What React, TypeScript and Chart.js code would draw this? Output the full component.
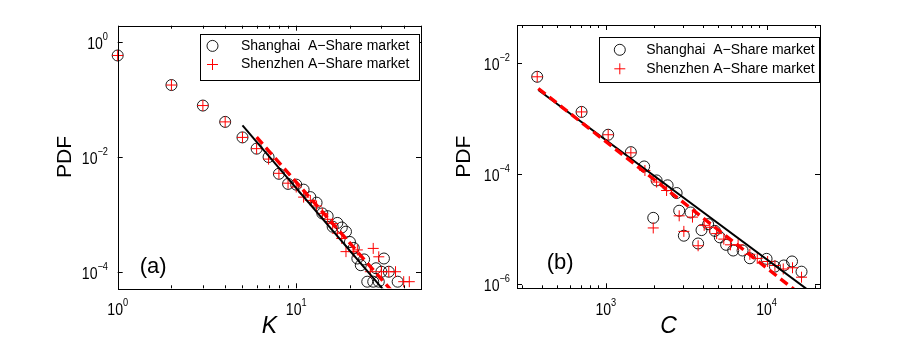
import React, { useEffect, useRef } from 'react';
import { Chart, registerables } from 'chart.js';

Chart.register(...registerables);

const FONT = "'Liberation Sans', Arial, Helvetica, sans-serif";

// ---------- Panel (a): degree K ----------
const kShanghai = [1, 2, 3, 4, 5, 6, 7, 8, 9, 10, 11, 12, 13, 14, 15, 16, 17, 18, 19, 20, 21, 22, 23, 24, 25, 27, 28, 29, 30, 31, 33, 37];
const pdfKShanghai = [0.59, 0.18, 0.079, 0.041, 0.022, 0.014, 0.010, 0.0051, 0.0034, 0.0033, 0.0027, 0.0020, 0.0016, 0.00104, 0.00093, 0.00061, 0.00071, 0.00059, 0.00050, 0.00033, 0.00026, 0.00017, 0.00013, 0.000164, 0.000067, 0.000067, 0.000115, 0.000067, 0.0001, 0.00017, 0.0001, 0.000067];
const kShenzhen = [1, 2, 3, 4, 5, 6, 7, 8, 9, 10, 11, 12, 13, 14, 15, 16, 17, 18, 19, 21, 22, 26, 27, 29, 30, 33, 36, 40, 43];
const pdfKShenzhen = [0.59, 0.18, 0.079, 0.041, 0.022, 0.014, 0.0092, 0.0052, 0.0035, 0.0030, 0.0020, 0.00175, 0.0014, 0.00104, 0.00082, 0.00069, 0.00047, 0.00038, 0.000224, 0.000224, 0.00024, 0.0001, 0.000255, 0.000182, 0.0001, 0.0001, 0.0001, 0.000067, 0.000067];
const fitKBlack = [5, 32];
const fitPdfKBlack = [0.0356, 4.2e-5];
const fitKRed = [6, 36];
const fitPdfKRed = [0.0223, 3.9e-5];
const xTicksA = [1, 2, 3, 4, 5, 6, 7, 8, 9, 10, 20, 30, 40, 50];
const yTicksA = [1e-4, 1e-2, 1];

// ---------- Panel (b): C ----------
const cShanghai = [374, 706, 1034, 1431, 1731, 1972, 2069, 2422, 2756, 2860, 3057, 3365, 3750, 3937, 4331, 4768, 5120, 5600, 6200, 7090, 7870, 10000, 11270, 12800, 14400, 16500];
const pdfCShanghai = [5.7e-3, 1.32e-3, 5.1e-4, 2.47e-4, 1.36e-4, 1.6e-5, 7.6e-5, 6.2e-5, 4.5e-5, 2.15e-5, 7.6e-6, 2.0e-5, 5.5e-6, 9.6e-6, 1.23e-5, 9.3e-6, 7.1e-6, 5.2e-6, 4.1e-6, 4.1e-6, 2.97e-6, 2.9e-6, 2.1e-6, 2.2e-6, 2.6e-6, 1.7e-6];
const cShenzhen = [374, 706, 1034, 1431, 1750, 1972, 2069, 2387, 2860, 3057, 3460, 3750, 4090, 4440, 4890, 5420, 5960, 6650, 7870, 8750, 10150, 11270, 12700, 14500, 16500];
const pdfCShenzhen = [5.7e-3, 1.32e-3, 5.1e-4, 2.4e-4, 1.15e-4, 1.05e-5, 7.1e-5, 5.0e-5, 1.74e-5, 9.1e-6, 1.65e-5, 5.0e-6, 1.17e-5, 1.08e-5, 8.3e-6, 6.6e-6, 5.2e-6, 5.2e-6, 3.5e-6, 2.95e-6, 2.6e-6, 2.2e-6, 1.9e-6, 2.0e-6, 1.35e-6];
const fitCBlack = [380, 20000];
const fitPdfCBlack = [3.28e-3, 6.4e-7];
const fitCRed = [380, 16000];
const fitPdfCRed = [3.5e-3, 6.8e-7];
const xTicksB = [300, 400, 500, 600, 700, 800, 900, 1000, 2000, 3000, 4000, 5000, 6000, 7000, 8000, 9000, 10000, 20000];
const yTicksB = [1e-6, 1e-4, 1e-2];

const seriesLabels = ['Shanghai  A\u2212Share market', 'Shenzhen A\u2212Share market'];

const SX = 0.88; // condensed look of the tick font
const BASE_SIZE = 16;
const EXP_SIZE = 10.5;

const isDecade = (v: number) => {
  const e = Math.log10(v);
  return Math.abs(e - Math.round(e)) < 1e-9;
};

const expOf = (v: number) => String(Math.round(Math.log10(v))).replace('-', '\u2212');

function drawPow(ctx: CanvasRenderingContext2D, v: number, x: number, baseY: number, expDy: number, align: 'center' | 'right') {
  const base = '10';
  const exp = expOf(v);
  ctx.font = `${BASE_SIZE}px ${FONT}`;
  const wb = ctx.measureText(base).width * SX;
  ctx.font = `${EXP_SIZE}px ${FONT}`;
  const we = ctx.measureText(exp).width * SX;
  const total = wb + we;
  const x0 = align === 'center' ? x - total / 2 : x - total;
  ctx.textAlign = 'left';
  ctx.textBaseline = 'alphabetic';
  ctx.save();
  ctx.translate(x0, baseY);
  ctx.scale(SX, 1);
  ctx.font = `${BASE_SIZE}px ${FONT}`;
  ctx.fillText(base, 0, 0);
  ctx.restore();
  ctx.save();
  ctx.translate(x0 + wb, baseY + expDy);
  ctx.scale(SX, 1);
  ctx.font = `${EXP_SIZE}px ${FONT}`;
  ctx.fillText(exp, 0, 0);
  ctx.restore();
}

const pts = (xs: number[], ys: number[]) => xs.map((x, i) => ({ x, y: ys[i] }));

type DecorOpts = {
  legendW: number; legendH: number; legendRight: number; legendTop: number;
  markerX: number; textX: number; row1: number; row2: number;
  tag: string; tagX: number; tagY: number; yLabelPad: number;
};

function makeDecor(p: DecorOpts) {
  return {
    id: 'decor',
    afterDatasetsDraw(chart: any) {
      const { ctx, chartArea: a, scales } = chart;
      const xs = scales.x;
      const ys = scales.y;
      ctx.save();
      ctx.strokeStyle = '#000';
      ctx.lineWidth = 1;
      ctx.setLineDash([]);
      ctx.beginPath();
      for (const t of xs.ticks) {
        const px = Math.round(xs.getPixelForValue(t.value)) + 0.5;
        if (px < a.left - 0.5 || px > a.right + 0.5) continue;
        const len = isDecade(t.value) ? 5 : 3;
        ctx.moveTo(px, a.bottom);
        ctx.lineTo(px, a.bottom - len);
        ctx.moveTo(px, a.top);
        ctx.lineTo(px, a.top + len);
      }
      for (const t of ys.ticks) {
        const py = Math.round(ys.getPixelForValue(t.value)) + 0.5;
        if (py < a.top - 0.5 || py > a.bottom + 0.5) continue;
        ctx.moveTo(a.left, py);
        ctx.lineTo(a.left + 5, py);
        ctx.moveTo(a.right, py);
        ctx.lineTo(a.right - 5, py);
      }
      ctx.stroke();
      ctx.strokeRect(Math.round(a.left) + 0.5, Math.round(a.top) + 0.5, Math.round(a.right - a.left), Math.round(a.bottom - a.top));

      // tick labels (powers of ten, from the scales' own ticks)
      ctx.fillStyle = '#000';
      for (const t of xs.ticks) {
        if (!isDecade(t.value)) continue;
        const px = xs.getPixelForValue(t.value);
        drawPow(ctx, t.value, px, a.bottom + 26.7, -9.2, 'center');
      }
      for (const t of ys.ticks) {
        if (!isDecade(t.value)) continue;
        const py = ys.getPixelForValue(t.value);
        drawPow(ctx, t.value, a.left - p.yLabelPad, py + 7, -9, 'right');
      }

      // legend
      const lx = Math.round(a.right - p.legendRight - p.legendW) + 0.5;
      const ly = Math.round(a.top + p.legendTop) + 0.5;
      ctx.fillStyle = '#fff';
      ctx.fillRect(lx, ly, p.legendW, p.legendH);
      ctx.strokeStyle = '#000';
      ctx.lineWidth = 1;
      ctx.strokeRect(lx, ly, p.legendW, p.legendH);

      const ds = chart.data.datasets;
      const shLabel = ds[3].label;
      const szLabel = ds[2].label;
      ctx.beginPath();
      ctx.lineWidth = 0.9;
      ctx.strokeStyle = '#000';
      ctx.arc(lx + p.markerX, ly + p.row1, 5.5, 0, Math.PI * 2);
      ctx.stroke();
      ctx.beginPath();
      ctx.lineWidth = 1;
      ctx.strokeStyle = '#ff0000';
      ctx.moveTo(lx + p.markerX - 5.5, ly + p.row2);
      ctx.lineTo(lx + p.markerX + 5.5, ly + p.row2);
      ctx.moveTo(lx + p.markerX, ly + p.row2 - 5.5);
      ctx.lineTo(lx + p.markerX, ly + p.row2 + 5.5);
      ctx.stroke();

      ctx.fillStyle = '#000';
      ctx.font = `14px ${FONT}`;
      ctx.textBaseline = 'middle';
      ctx.textAlign = 'left';
      ctx.fillText(shLabel, lx + p.textX, ly + p.row1);
      ctx.fillText(szLabel, lx + p.textX, ly + p.row2);

      ctx.font = `22px ${FONT}`;
      ctx.fillText(p.tag, a.left + p.tagX, a.bottom - p.tagY);
      ctx.restore();
    },
  };
}

type PanelArgs = {
  shX: number[]; shY: number[]; szX: number[]; szY: number[];
  bX: number[]; bY: number[]; rX: number[]; rY: number[];
  xMin: number; xMax: number; yMin: number; yMax: number;
  xTicks: number[]; yTicks: number[];
  padTop: number; padRight: number; yAxisW: number; xAxisH: number;
  yTitlePad: number; xTitle: string;
  decor: DecorOpts;
};

function buildConfig(g: PanelArgs): any {
  return {
    type: 'scatter',
    data: {
      datasets: [
        {
          label: 'Shenzhen fit',
          data: pts(g.rX, g.rY),
          showLine: true,
          borderColor: '#ff0000',
          borderWidth: 3.4,
          borderDash: [9, 5],
          pointRadius: 0,
          fill: false,
          clip: 0,
        },
        {
          label: 'Shanghai fit',
          data: pts(g.bX, g.bY),
          showLine: true,
          borderColor: '#000000',
          borderWidth: 2,
          pointRadius: 0,
          fill: false,
          clip: 0,
        },
        {
          label: seriesLabels[1],
          data: pts(g.szX, g.szY),
          showLine: false,
          pointStyle: 'cross',
          pointRadius: 5.5,
          borderColor: '#ff0000',
          backgroundColor: 'rgba(0,0,0,0)',
          pointBorderWidth: 1,
          clip: false,
        },
        {
          label: seriesLabels[0],
          data: pts(g.shX, g.shY),
          showLine: false,
          pointStyle: 'circle',
          pointRadius: 5.5,
          borderColor: '#000000',
          backgroundColor: 'rgba(0,0,0,0)',
          pointBorderWidth: 0.9,
          clip: false,
        },
      ],
    },
    options: {
      animation: false,
      responsive: false,
      maintainAspectRatio: false,
      events: [],
      layout: { padding: { left: 0, top: g.padTop, right: g.padRight, bottom: 0 } },
      plugins: { legend: { display: false }, tooltip: { enabled: false } },
      scales: {
        x: {
          type: 'logarithmic',
          min: g.xMin,
          max: g.xMax,
          afterBuildTicks: (s: any) => { s.ticks = g.xTicks.map((v) => ({ value: v })); },
          afterFit: (s: any) => { s.height = g.xAxisH; },
          grid: { display: false, drawTicks: false },
          border: { display: false },
          ticks: { display: false, autoSkip: false },
          title: {
            display: true, text: g.xTitle, color: '#000',
            font: { family: FONT, size: 23, style: 'italic' },
            padding: { top: 0, bottom: 1 },
          },
        },
        y: {
          type: 'logarithmic',
          min: g.yMin,
          max: g.yMax,
          afterBuildTicks: (s: any) => { s.ticks = g.yTicks.map((v) => ({ value: v })); },
          afterFit: (s: any) => { s.width = g.yAxisW; },
          grid: { display: false, drawTicks: false },
          border: { display: false },
          ticks: { display: false, autoSkip: false },
          title: {
            display: true, text: 'PDF', color: '#000',
            font: { family: FONT, size: 21 },
            padding: { top: g.yTitlePad, bottom: 0 },
          },
        },
      },
    },
    plugins: [makeDecor(g.decor)],
  };
}

export default function App() {
  const refA = useRef<HTMLCanvasElement | null>(null);
  const refB = useRef<HTMLCanvasElement | null>(null);

  useEffect(() => {
    if (!refA.current || !refB.current) return;
    const chartA = new Chart(refA.current, buildConfig({
      shX: kShanghai, shY: pdfKShanghai, szX: kShenzhen, szY: pdfKShenzhen,
      bX: fitKBlack, bY: fitPdfKBlack, rX: fitKRed, rY: fitPdfKRed,
      xMin: 1, xMax: 50, yMin: 5.14e-5, yMax: 1.95,
      xTicks: xTicksA, yTicks: yTicksA,
      padTop: 25.7, padRight: 32, yAxisW: 117.7, xAxisH: 52.7,
      yTitlePad: 52.4, xTitle: 'K',
      decor: {
        legendW: 219, legendH: 46, legendRight: 2, legendTop: 8.6,
        markerX: 12, textX: 40.5, row1: 11.4, row2: 30,
        tag: '(a)', tagX: 22, tagY: 21, yLabelPad: 9.7,
      },
    }));
    const chartB = new Chart(refB.current, buildConfig({
      shX: cShanghai, shY: pdfCShanghai, szX: cShenzhen, szY: pdfCShenzhen,
      bX: fitCBlack, bY: fitPdfCBlack, rX: fitCRed, rY: fitPdfCRed,
      xMin: 280, xMax: 21500, yMin: 8.5e-7, yMax: 0.0493,
      xTicks: xTicksB, yTicks: yTicksB,
      padTop: 25, padRight: 86, yAxisW: 69, xAxisH: 52.7,
      yTitlePad: 3.4, xTitle: 'C',
      decor: {
        legendW: 220, legendH: 45, legendRight: 1, legendTop: 12,
        markerX: 20.3, textX: 46.7, row1: 12.3, row2: 31.3,
        tag: '(b)', tagX: 29.7, tagY: 25, yLabelPad: 7,
      },
    }));
    return () => {
      chartA.destroy();
      chartB.destroy();
    };
  }, []);

  return (
    <div style={{ position: 'absolute', left: 0, top: 0, width: 906, height: 341, background: '#fff', overflow: 'hidden' }}>
      <canvas ref={refA} width={453} height={341} style={{ position: 'absolute', left: 0, top: 0, width: 453, height: 341 }} />
      <canvas ref={refB} width={458} height={341} style={{ position: 'absolute', left: 448, top: 0, width: 458, height: 341 }} />
    </div>
  );
}
